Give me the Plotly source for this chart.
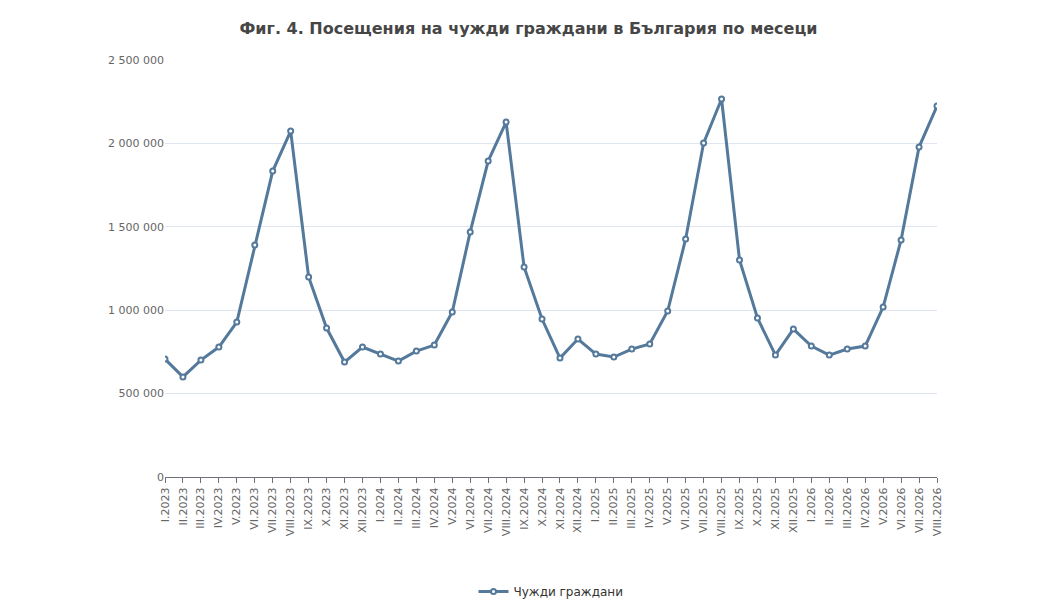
import plotly.graph_objects as go

months = ["I","II","III","IV","V","VI","VII","VIII","IX","X","XI","XII"]
categories = [f"{m}.{y}" for y in (2023, 2024, 2025) for m in months] + [f"{m}.2026" for m in months[:8]]
values = [707000, 600000, 701000, 779000, 929000, 1391000, 1834000, 2074000, 1199000, 893000, 689000, 779000,
          737000, 695000, 755000, 791000, 989000, 1469000, 1894000, 2128000, 1259000, 947000, 713000, 827000,
          737000, 719000, 767000, 797000, 995000, 1427000, 2002000, 2266000, 1301000, 953000, 731000, 887000,
          785000, 731000, 767000, 785000, 1019000, 1421000, 1978000, 2224000]
series_name = "Чужди граждани"
title = "Фиг. 4. Посещения на чужди граждани в България по месеци"
tickvals = [0, 500000, 1000000, 1500000, 2000000, 2500000]
ticktext = ["0", "500 000", "1 000 000", "1 500 000", "2 000 000", "2 500 000"]

color = "#54799b"
fig = go.Figure(go.Scatter(
    x=categories, y=values, name=series_name, mode="lines+markers",
    line=dict(color=color, width=3),
    marker=dict(symbol="circle", size=5, color="white", line=dict(color=color, width=2)),
))
fig.update_layout(
    width=1041, height=600, paper_bgcolor="white", plot_bgcolor="white",
    font=dict(family="DejaVu Sans, sans-serif", size=12, color="#666"),
    title=dict(text=f"<b>{title}</b>", x=0.5, y=0.975, xanchor="center",
               font=dict(size=16, color="#464646")),
    margin=dict(l=157, r=112, t=52, b=131, autoexpand=False),
    showlegend=True,
    legend=dict(orientation="h", x=0.5, xanchor="center", y=-0.24, yanchor="top",
                font=dict(size=12, color="#333")),
    xaxis=dict(type="category", tickangle=-90, showgrid=False, showline=True,
               linecolor="#6e7079", ticks="outside", ticklen=5, tickcolor="#6e7079",
               tickfont=dict(size=11, color="#666"), automargin=False),
    yaxis=dict(range=[0, 2500000], tickvals=tickvals, ticktext=ticktext,
               gridcolor="#e0e6f1", zeroline=False, showline=False, automargin=False,
               tickfont=dict(size=11, color="#666")),
)
fig.update_xaxes(range=[0, len(categories) - 1])
fig.write_html("out.html")
